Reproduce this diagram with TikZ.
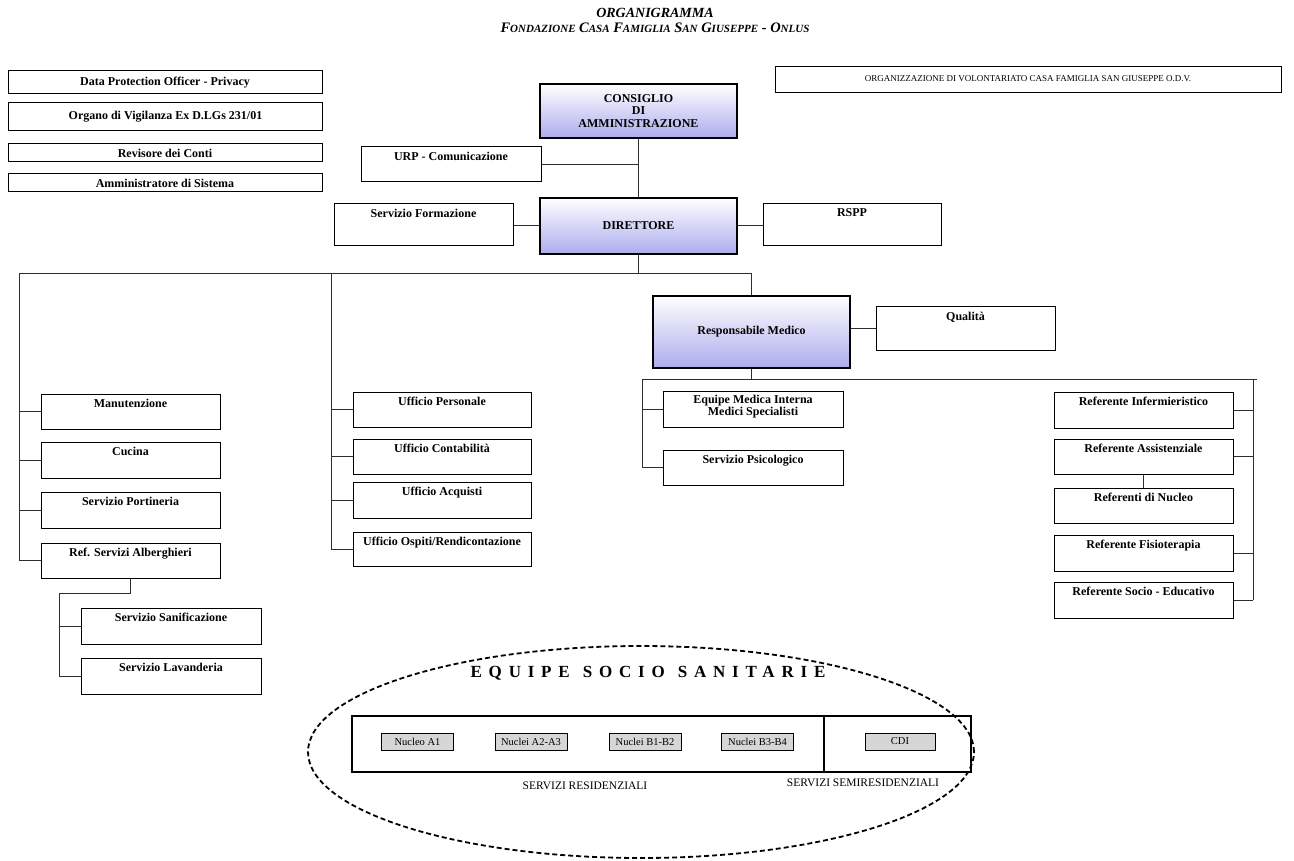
\documentclass[tikz,border=0pt]{standalone}
\usepackage{fontspec}
\setmainfont{Liberation Serif}
\usetikzlibrary{calc}
\usetikzlibrary{positioning}
\usetikzlibrary{shapes.geometric}

\definecolor{lavender}{RGB}{172,172,238}
\definecolor{linegray}{RGB}{45,45,45}
\definecolor{nucgray}{RGB}{214,214,214}

\newcommand{\boxfont}{\fontsize{12}{12.5}\selectfont\bfseries}
\newcommand{\smcap}[1]{{\fontsize{11}{12}\selectfont #1}}

\tikzset{
  unit/.style={draw=black,line width=1pt,rectangle,fill=white,minimum width=179pt,minimum height=36pt,inner sep=0pt},
  head/.style={unit,line width=2.2pt,top color=white,bottom color=lavender,minimum width=197pt,font=\boxfont,align=center},
  side/.style={unit,minimum width=314pt,font=\boxfont},
  tag/.style={anchor=north,yshift=-5pt,inner sep=0pt,font=\boxfont,align=center},
  link/.style={draw=linegray,line width=0.8pt},
  nucleo/.style={draw=black,line width=0.6pt,fill=nucgray,minimum width=72pt,minimum height=17pt,inner sep=0pt,font=\fontsize{10.5}{12}\selectfont},
}

\begin{document}
\begin{tikzpicture}[x=1pt,y=-1pt]

  \useasboundingbox (0,0) rectangle (1294,861);

  \node [font=\fontsize{14}{14}\selectfont\bfseries\itshape] (Title) at (655,13) {ORGANIGRAMMA};
  \node [font=\fontsize{14.5}{14}\selectfont\bfseries\itshape] (Subtitle) at (655,28)
    {F\smcap{ONDAZIONE} C\smcap{ASA} F\smcap{AMIGLIA} S\smcap{AN} G\smcap{IUSEPPE} - O\smcap{NLUS}};

  \node [side,minimum height=23pt] (Dpo) at (165,82.5) {Data Protection Officer - Privacy};
  \node [side,minimum height=28pt] (Odv) at (165.5,117) {Organo di Vigilanza Ex D.LGs 231/01};
  \node [side,minimum height=18pt] (Rev) at (165,153) {Revisore dei Conti};
  \node [side,minimum height=18pt] (Ads) at (165,183) {Amministratore di Sistema};

  \node [unit,minimum width=506pt,minimum height=26pt,
    label={[tag,yshift=-4pt,font=\fontsize{9}{9}\selectfont]above:ORGANIZZAZIONE DI VOLONTARIATO CASA FAMIGLIA SAN GIUSEPPE O.D.V.}] (Odv_ass) at (1028,80) {};

  \node [head,minimum height=54pt] (Cda) at (638.5,111) {CONSIGLIO\\DI\\AMMINISTRAZIONE};
  \node [head,minimum height=56pt] (Dir) at (638.5,226) {DIRETTORE};
  \node [unit,minimum width=180pt,minimum height=35pt,label={[tag]above:URP - Comunicazione}] (Urp) at (451,164.5) {};
  \node [unit,minimum height=42pt,label={[tag]above:Servizio Formazione}] (Sfor) at (423.5,225) {};
  \node [unit,minimum width=178pt,minimum height=42pt,label={[tag]above:RSPP}] (Rspp) at (852,225) {};

  \node [head,minimum height=72pt] (Resmed) at (751.5,332) {Responsabile Medico};
  \node [unit,minimum height=43pt,label={[tag]above:Qualità}] (Qual) at (965.5,328.5) {};

  \node [unit,minimum width=180pt,label={[tag,yshift=1pt]above:Equipe Medica Interna\\Medici Specialisti}] (Eqm) at (753,409) {};
  \node [unit,minimum width=180pt,minimum height=35pt,label={[tag]above:Servizio Psicologico}] (Psi) at (753,467.5) {};

  \node [unit,label={[tag]above:Referente Infermieristico}] (Rinf) at (1143.5,410) {};
  \node [unit,minimum height=35pt,label={[tag]above:Referente Assistenziale}] (Rass) at (1143.5,456.5) {};
  \node [unit,minimum height=35pt,label={[tag]above:Referenti di Nucleo}] (Rnuc) at (1143.5,505.5) {};
  \node [unit,label={[tag]above:Referente Fisioterapia}] (Rfis) at (1143.5,553) {};
  \node [unit,label={[tag]above:Referente Socio - Educativo}] (Rsoc) at (1143.5,600) {};

  \node [unit,minimum height=35pt,label={[tag]above:Manutenzione}] (Manut) at (130.5,411.5) {};
  \node [unit,label={[tag]above:Cucina}] (Cucina) at (130.5,460) {};
  \node [unit,label={[tag]above:Servizio Portineria}] (Portin) at (130.5,510) {};
  \node [unit,minimum height=35pt,label={[tag]above:Ref. Servizi Alberghieri}] (Refalb) at (130.5,560.5) {};
  \node [unit,minimum width=180pt,label={[tag]above:Servizio Sanificazione}] (Sanif) at (171,626) {};
  \node [unit,minimum width=180pt,label={[tag]above:Servizio Lavanderia}] (Lavand) at (171,676) {};

  \node [unit,minimum width=178pt,minimum height=35pt,label={[tag]above:Ufficio Personale}] (Upers) at (442,409.5) {};
  \node [unit,minimum width=178pt,minimum height=35pt,label={[tag]above:Ufficio Contabilità}] (Ucont) at (442,456.5) {};
  \node [unit,minimum width=178pt,label={[tag]above:Ufficio Acquisti}] (Uacq) at (442,500) {};
  \node [unit,minimum width=178pt,minimum height=34pt,label={[tag]above:Ufficio Ospiti/Rendicontazione}] (Uosp) at (442,549) {};

  \coordinate (Bus_l) at (19,273);
  \coordinate (Bus_m) at (331,273);
  \coordinate (Sub_l) at (59,593);
  \coordinate (Bus2_l) at (642,379);
  \coordinate (Bus2_r) at (1253,379);
  \coordinate (Bus2_end) at (1257,379);

  \path [link]
    (Cda) edge (Dir)
    (Urp.east) edge (Urp.east -| Cda.south)
    (Sfor.east) edge (Sfor.east -| Dir.west)
    (Dir.east |- Rspp.west) edge (Rspp.west)
    (Dir) edge (Dir.south |- Bus_l)
    (Bus_l) edge (Resmed.north |- Bus_l)
    (Resmed.north |- Bus_l) edge (Resmed)
    (Resmed.east |- Qual.west) edge (Qual.west);

  \path [link]
    (Bus_l) edge (Bus_l |- Refalb.west)
    (Manut.west -| Bus_l) edge (Manut.west)
    (Cucina.west -| Bus_l) edge (Cucina.west)
    (Portin.west -| Bus_l) edge (Portin.west)
    (Refalb.west -| Bus_l) edge (Refalb.west)
    (Refalb) edge (Refalb.south |- Sub_l)
    (Refalb.south |- Sub_l) edge (Sub_l)
    (Sub_l) edge (Sub_l |- Lavand.west)
    (Sanif.west -| Sub_l) edge (Sanif.west)
    (Lavand.west -| Sub_l) edge (Lavand.west);

  \path [link]
    (Bus_m) edge (Bus_m |- Uosp.west)
    (Upers.west -| Bus_m) edge (Upers.west)
    (Ucont.west -| Bus_m) edge (Ucont.west)
    (Uacq.west -| Bus_m) edge (Uacq.west)
    (Uosp.west -| Bus_m) edge (Uosp.west);

  \path [link]
    (Resmed) edge (Resmed.south |- Bus2_l)
    (Bus2_l) edge (Bus2_end)
    (Bus2_l) edge (Bus2_l |- Psi.west)
    (Eqm.west -| Bus2_l) edge (Eqm.west)
    (Psi.west -| Bus2_l) edge (Psi.west)
    (Bus2_r) edge (Bus2_r |- Rsoc.east)
    (Rinf.east) edge (Rinf.east -| Bus2_r)
    (Rass.east) edge (Rass.east -| Bus2_r)
    (Rfis.east) edge (Rfis.east -| Bus2_r)
    (Rsoc.east) edge (Rsoc.east -| Bus2_r)
    (Rass) edge (Rnuc);

  \node [ellipse,draw=black,line width=1.8pt,dash pattern=on 5pt off 3pt,minimum width=666pt,minimum height=212pt] (Equipe) at (641,752) {};
  \node [font=\fontsize{17}{17}\selectfont\bfseries\addfontfeature{LetterSpace=40}] (Equipe_t) at (648,673) {EQUIPE\hspace{13pt}SOCIO\hspace{13pt}SANITARIE};

  \node [draw=black,line width=1.8pt,minimum width=472pt,minimum height=56pt] (Res) at (588,744) {};
  \node [draw=black,line width=1.8pt,minimum width=147pt,minimum height=56pt] (Semi) at (897.5,744) {};

  \node [nucleo] (Nuc_a1) at (417.5,741.5) {Nucleo A1};
  \node [nucleo] (Nuc_a2) at (531,741.5) {Nuclei A2-A3};
  \node [nucleo] (Nuc_b1) at (645,741.5) {Nuclei B1-B2};
  \node [nucleo] (Nuc_b3) at (757.5,741.5) {Nuclei B3-B4};
  \node [nucleo,minimum width=70pt] (Cdi) at (900,741.5) {CDI};

  \node [font=\fontsize{11.5}{12}\selectfont] (Res_t) at (585,786) {SERVIZI RESIDENZIALI};
  \node [font=\fontsize{11.5}{12}\selectfont] (Semi_t) at (863,783) {SERVIZI SEMIRESIDENZIALI};

\end{tikzpicture}
\end{document}
